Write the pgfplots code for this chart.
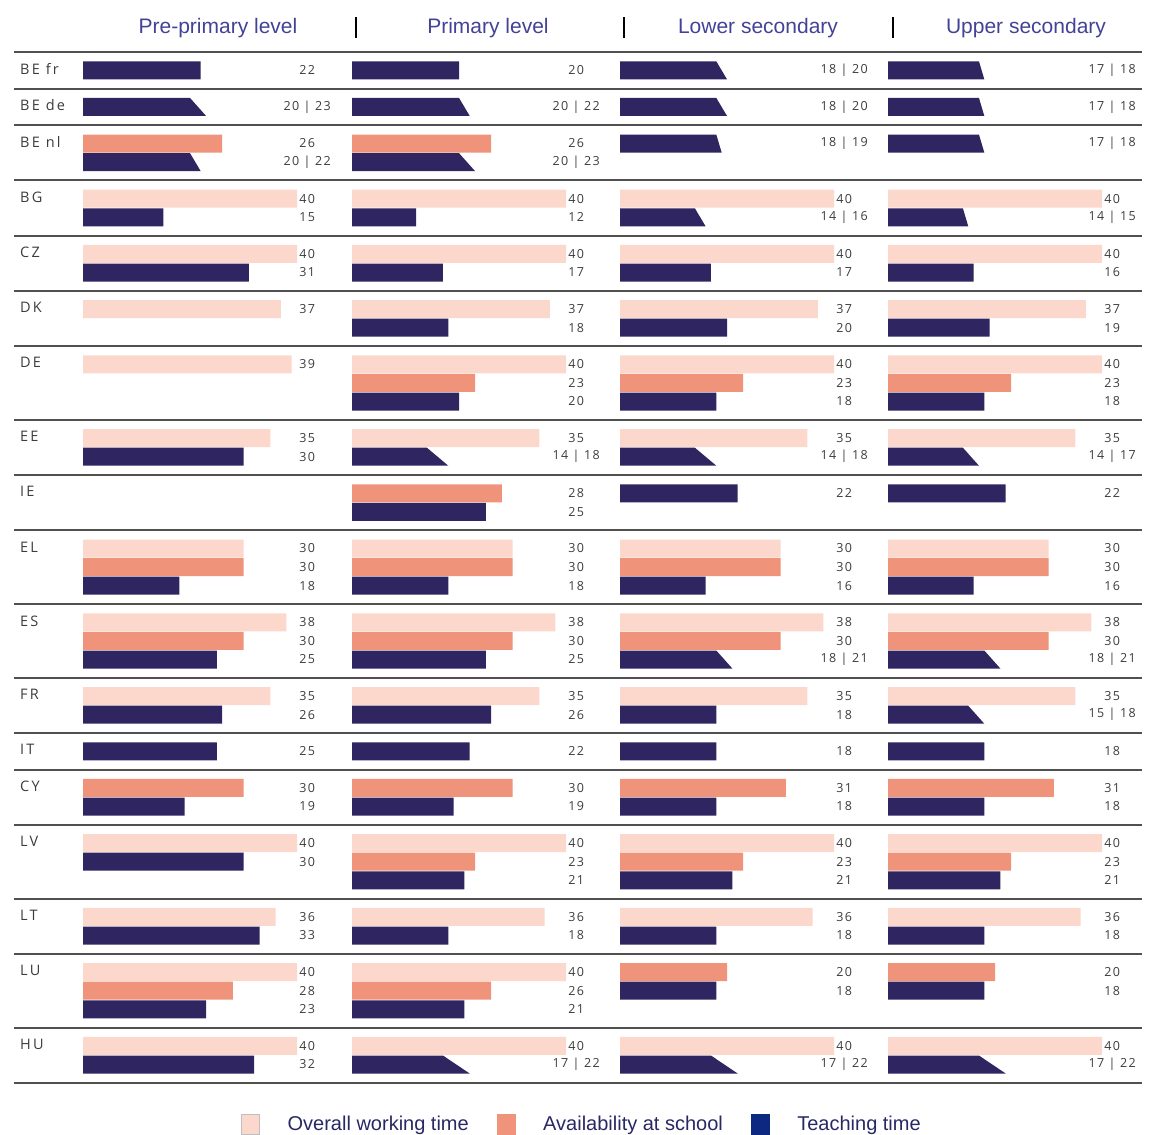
\documentclass[border=0pt]{standalone}
\usepackage{fontspec}
\setmainfont{Open Sans}
\newfontfamily\hfont{Liberation Sans}
\newfontfamily\cfam[LetterSpace=15]{Open Sans}
\newfontfamily\vfam[LetterSpace=10]{Open Sans}
\usepackage{pgfplots}
\usepackage{pgfplotstable}
\pgfplotsset{compat=1.18}

\definecolor{ov}{RGB}{251,215,204}
\definecolor{av}{RGB}{240,147,123}
\definecolor{te}{RGB}{46,37,97}
\definecolor{tel}{RGB}{12,40,128}
\definecolor{hd}{RGB}{66,66,150}
\definecolor{legc}{RGB}{40,40,100}
\definecolor{sepc}{RGB}{80,80,80}
\definecolor{txt}{RGB}{60,60,60}

\newcommand\vfont{\vfam\fontsize{12.5}{13}\selectfont}
\newcommand\cfont{\cfam\fontsize{14.5}{16}\selectfont}
\newcommand\hdfont{\hfont\fontsize{21}{23}\selectfont}

\pgfplotsset{
 panel/.style={x=5.35pt, y=1pt, y dir=reverse, xmin=0, xmax=50, ymin=0, ymax=1135,
   hide axis, clip=false, anchor=north west},
 hb/.style={xbar, bar width=18pt, bar shift=0pt, draw=none, fill=#1},
 tr/.style={fill=te, draw=none},
 lab/.style={draw=none, mark=none, nodes near coords, point meta=explicit symbolic,
   every node near coord/.append style={anchor=center, font=\vfont, text=txt, inner sep=0pt}},
}

% ---------------- Pre-primary ----------------
\pgfplotstableread{
y v
198.7 40
253.9 40
309.1 37
364.3 39
438.1 35
548.5 30
622.3 38
696.1 35
843.1 40
916.9 36
972.1 40
1045.9 40
}\preO
\pgfplotstableread{
y v
143.5 26
567.1 30
640.9 30
787.9 30
990.7 28
}\preA
\pgfplotstableread{
y v
70.3 22
217.3 15
272.5 31
456.7 30
585.7 18
659.5 25
714.7 26
751.3 25
806.5 19
861.7 30
935.5 33
1009.3 23
1064.5 32
}\preT
\pgfplotstableread[col sep=comma]{
y,lab
70.3,22
106.9,20 | 23
143.5,26
162.1,20 | 22
198.7,40
217.3,15
253.9,40
272.5,31
309.1,37
364.3,39
438.1,35
456.7,30
548.5,30
567.1,30
585.7,18
622.3,38
640.9,30
659.5,25
696.1,35
714.7,26
751.3,25
787.9,30
806.5,19
843.1,40
861.7,30
916.9,36
935.5,33
972.1,40
990.7,28
1009.3,23
1045.9,40
1064.5,32
}\preL

% ---------------- Primary ----------------
\pgfplotstableread{
y v
198.7 40
253.9 40
309.1 37
364.3 40
438.1 35
548.5 30
622.3 38
696.1 35
843.1 40
916.9 36
972.1 40
1045.9 40
}\priO
\pgfplotstableread{
y v
143.5 26
382.9 23
493.3 28
567.1 30
640.9 30
787.9 30
861.7 23
990.7 26
}\priA
\pgfplotstableread{
y v
70.3 20
217.3 12
272.5 17
327.7 18
401.5 20
511.9 25
585.7 18
659.5 25
714.7 26
751.3 22
806.5 19
880.3 21
935.5 18
1009.3 21
}\priT
\pgfplotstableread[col sep=comma]{
y,lab
70.3,20
106.9,20 | 22
143.5,26
162.1,20 | 23
198.7,40
217.3,12
253.9,40
272.5,17
309.1,37
327.7,18
364.3,40
382.9,23
401.5,20
438.1,35
456.7,14 | 18
493.3,28
511.9,25
548.5,30
567.1,30
585.7,18
622.3,38
640.9,30
659.5,25
696.1,35
714.7,26
751.3,22
787.9,30
806.5,19
843.1,40
861.7,23
880.3,21
916.9,36
935.5,18
972.1,40
990.7,26
1009.3,21
1045.9,40
1064.5,17 | 22
}\priL

% ---------------- Lower secondary ----------------
\pgfplotstableread{
y v
198.7 40
253.9 40
309.1 37
364.3 40
438.1 35
548.5 30
622.3 38
696.1 35
843.1 40
916.9 36
1045.9 40
}\lowO
\pgfplotstableread{
y v
382.9 23
567.1 30
640.9 30
787.9 31
861.7 23
972.1 20
}\lowA
\pgfplotstableread{
y v
272.5 17
327.7 20
401.5 18
493.3 22
585.7 16
714.7 18
751.3 18
806.5 18
880.3 21
935.5 18
990.7 18
}\lowT
\pgfplotstableread[col sep=comma]{
y,lab
70.3,18 | 20
106.9,18 | 20
143.5,18 | 19
198.7,40
217.3,14 | 16
253.9,40
272.5,17
309.1,37
327.7,20
364.3,40
382.9,23
401.5,18
438.1,35
456.7,14 | 18
493.3,22
548.5,30
567.1,30
585.7,16
622.3,38
640.9,30
659.5,18 | 21
696.1,35
714.7,18
751.3,18
787.9,31
806.5,18
843.1,40
861.7,23
880.3,21
916.9,36
935.5,18
972.1,20
990.7,18
1045.9,40
1064.5,17 | 22
}\lowL

% ---------------- Upper secondary ----------------
\pgfplotstableread{
y v
198.7 40
253.9 40
309.1 37
364.3 40
438.1 35
548.5 30
622.3 38
696.1 35
843.1 40
916.9 36
1045.9 40
}\uppO
\pgfplotstableread{
y v
382.9 23
567.1 30
640.9 30
787.9 31
861.7 23
972.1 20
}\uppA
\pgfplotstableread{
y v
272.5 16
327.7 19
401.5 18
493.3 22
585.7 16
751.3 18
806.5 18
880.3 21
935.5 18
990.7 18
}\uppT
\pgfplotstableread[col sep=comma]{
y,lab
70.3,17 | 18
106.9,17 | 18
143.5,17 | 18
198.7,40
217.3,14 | 15
253.9,40
272.5,16
309.1,37
327.7,19
364.3,40
382.9,23
401.5,18
438.1,35
456.7,14 | 17
493.3,22
548.5,30
567.1,30
585.7,16
622.3,38
640.9,30
659.5,18 | 21
696.1,35
714.7,15 | 18
751.3,18
787.9,31
806.5,18
843.1,40
861.7,23
880.3,21
916.9,36
935.5,18
972.1,20
990.7,18
1045.9,40
1064.5,17 | 22
}\uppL

\begin{document}
\begin{tikzpicture}
\path[use as bounding box] (0pt,0pt) rectangle (1152pt,-1135pt);

% ---------- frame: separators, row names, headers, legend ----------
\begin{axis}[x=1pt, y=1pt, y dir=reverse, xmin=0, xmax=1152, ymin=0, ymax=1135,
  hide axis, clip=false, anchor=north west, at={(0pt,0pt)},
  legend columns=3, legend cell align=left,
  legend image code/.code={\draw[#1] (0pt,-10pt) rectangle (18pt,10pt);},
  legend style={at={(axis cs:595,1124)}, anchor=center, draw=none, fill=none,
    font=\hfont\fontsize{20}{22}\selectfont, text=legc,
    /tikz/every even column/.append style={column sep=0pt},
    nodes={inner xsep=28pt}}]
\pgfplotsinvokeforeach{52,88.6,125.2,180.4,235.6,290.8,346,419.8,475,530.2,604,677.8,733,769.6,824.8,898.6,953.8,1027.6,1082.8}{
  \draw[sepc, line width=2pt] (axis cs:14,#1) -- (axis cs:1142,#1);
}
\pgfplotsinvokeforeach{356,624,893}{
  \draw[black, line width=2.2pt] (axis cs:#1,17) -- (axis cs:#1,38);
}
\node[font=\hdfont, text=hd] at (axis cs:218,28) {Pre-primary level};
\node[font=\hdfont, text=hd] at (axis cs:488,28) {Primary level};
\node[font=\hdfont, text=hd] at (axis cs:758,28) {Lower secondary};
\node[font=\hdfont, text=hd] at (axis cs:1026,28) {Upper secondary};

\begin{scope}[every node/.style={anchor=west, font=\cfont, text=txt, inner sep=0pt}]
\node at (axis cs:20,69) {BE fr};
\node at (axis cs:20,105.5) {BE de};
\node at (axis cs:20,142) {BE nl};
\node at (axis cs:20,197.2) {BG};
\node at (axis cs:20,252.4) {CZ};
\node at (axis cs:20,307.6) {DK};
\node at (axis cs:20,362.8) {DE};
\node at (axis cs:20,436.6) {EE};
\node at (axis cs:20,491.8) {IE};
\node at (axis cs:20,547) {EL};
\node at (axis cs:20,620.8) {ES};
\node at (axis cs:20,694.6) {FR};
\node at (axis cs:20,749.8) {IT};
\node at (axis cs:20,786.4) {CY};
\node at (axis cs:20,841.6) {LV};
\node at (axis cs:20,915.4) {LT};
\node at (axis cs:20,970.6) {LU};
\node at (axis cs:20,1044.4) {HU};
\end{scope}

\addlegendimage{fill=ov, draw=black!25}
\addlegendimage{fill=av, draw=av}
\addlegendimage{fill=tel, draw=tel}
\legend{Overall working time, Availability at school, Teaching time}
\end{axis}

% ---------- Pre-primary ----------
\begin{axis}[panel, at={(83pt,0pt)}]
\addplot[hb=ov] table[x=v, y=y] {\preO};
\addplot[hb=av] table[x=v, y=y] {\preA};
\addplot[hb=te] table[x=v, y=y] {\preT};
\addplot[tr] coordinates {(0,97.9) (20,97.9) (23,115.9) (0,115.9)} -- cycle;
\addplot[tr] coordinates {(0,153.1) (20,153.1) (22,171.1) (0,171.1)} -- cycle;
\addplot[lab] table[x expr=41.9, y=y, meta=lab] {\preL};
\end{axis}

% ---------- Primary ----------
\begin{axis}[panel, at={(352pt,0pt)}]
\addplot[hb=ov] table[x=v, y=y] {\priO};
\addplot[hb=av] table[x=v, y=y] {\priA};
\addplot[hb=te] table[x=v, y=y] {\priT};
\addplot[tr] coordinates {(0,97.9) (20,97.9) (22,115.9) (0,115.9)} -- cycle;
\addplot[tr] coordinates {(0,153.1) (20,153.1) (23,171.1) (0,171.1)} -- cycle;
\addplot[tr] coordinates {(0,447.7) (14,447.7) (18,465.7) (0,465.7)} -- cycle;
\addplot[tr] coordinates {(0,1055.5) (17,1055.5) (22,1073.5) (0,1073.5)} -- cycle;
\addplot[lab] table[x expr=41.9, y=y, meta=lab] {\priL};
\end{axis}

% ---------- Lower secondary ----------
\begin{axis}[panel, at={(620pt,0pt)}]
\addplot[hb=ov] table[x=v, y=y] {\lowO};
\addplot[hb=av] table[x=v, y=y] {\lowA};
\addplot[hb=te] table[x=v, y=y] {\lowT};
\addplot[tr] coordinates {(0,61.3) (18,61.3) (20,79.3) (0,79.3)} -- cycle;
\addplot[tr] coordinates {(0,97.9) (18,97.9) (20,115.9) (0,115.9)} -- cycle;
\addplot[tr] coordinates {(0,134.5) (18,134.5) (19,152.5) (0,152.5)} -- cycle;
\addplot[tr] coordinates {(0,208.3) (14,208.3) (16,226.3) (0,226.3)} -- cycle;
\addplot[tr] coordinates {(0,447.7) (14,447.7) (18,465.7) (0,465.7)} -- cycle;
\addplot[tr] coordinates {(0,650.5) (18,650.5) (21,668.5) (0,668.5)} -- cycle;
\addplot[tr] coordinates {(0,1055.5) (17,1055.5) (22,1073.5) (0,1073.5)} -- cycle;
\addplot[lab] table[x expr=41.9, y=y, meta=lab] {\lowL};
\end{axis}

% ---------- Upper secondary ----------
\begin{axis}[panel, at={(888pt,0pt)}]
\addplot[hb=ov] table[x=v, y=y] {\uppO};
\addplot[hb=av] table[x=v, y=y] {\uppA};
\addplot[hb=te] table[x=v, y=y] {\uppT};
\addplot[tr] coordinates {(0,61.3) (17,61.3) (18,79.3) (0,79.3)} -- cycle;
\addplot[tr] coordinates {(0,97.9) (17,97.9) (18,115.9) (0,115.9)} -- cycle;
\addplot[tr] coordinates {(0,134.5) (17,134.5) (18,152.5) (0,152.5)} -- cycle;
\addplot[tr] coordinates {(0,208.3) (14,208.3) (15,226.3) (0,226.3)} -- cycle;
\addplot[tr] coordinates {(0,447.7) (14,447.7) (17,465.7) (0,465.7)} -- cycle;
\addplot[tr] coordinates {(0,650.5) (18,650.5) (21,668.5) (0,668.5)} -- cycle;
\addplot[tr] coordinates {(0,705.7) (15,705.7) (18,723.7) (0,723.7)} -- cycle;
\addplot[tr] coordinates {(0,1055.5) (17,1055.5) (22,1073.5) (0,1073.5)} -- cycle;
\addplot[lab] table[x expr=41.9, y=y, meta=lab] {\uppL};
\end{axis}
\end{tikzpicture}
\end{document}
